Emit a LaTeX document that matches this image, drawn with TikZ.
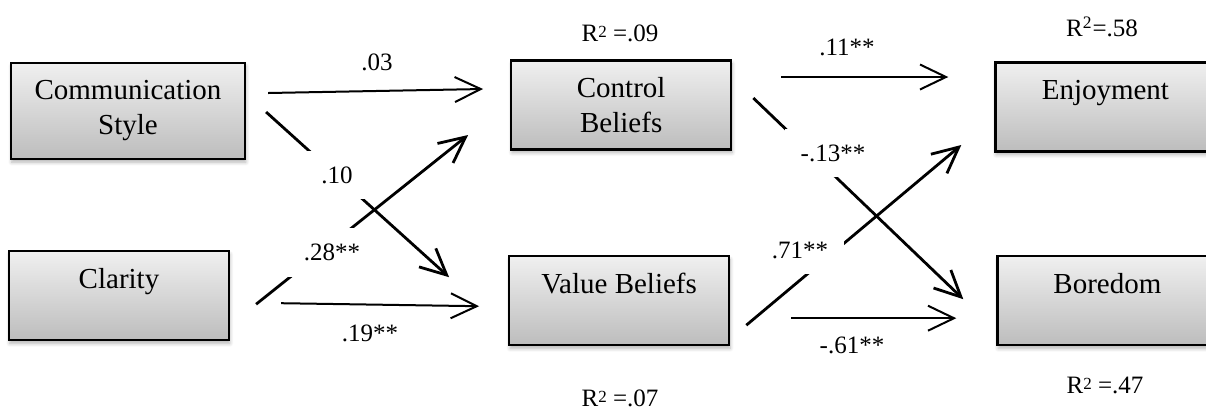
\documentclass[tikz,border=0pt]{standalone}
\usepackage{fontspec}
\setmainfont{Liberation Serif}
\usetikzlibrary{shapes,positioning,calc,arrows.meta,shadows.blur}
\newcommand{\Rtwo}{\raisebox{0.3ex}{\fontsize{8.5}{9}\selectfont 2}}

\begin{document}
\begin{tikzpicture}
            [
            box/.style={rectangle, draw, line width=1.1pt, top color=black!6,
                bottom color=black!26, minimum width=110pt, minimum height=44.5pt,
                align=center, inner sep=2pt, font=\fontsize{14.5}{17.5}\selectfont,
                blur shadow={shadow xshift=0.4pt, shadow yshift=-1.6pt,
                    shadow blur steps=6, shadow opacity=30}},
            coef/.style={font=\fontsize{12.5}{15}\selectfont, inner sep=1pt},
            cut/.style={coef, fill=white, inner sep=8pt},
            link/.style={->, line width=1pt},
            diag/.style={->, line width=1.4pt},
            >={Straight Barb[length=13pt, width=12.5pt]}
            ]

            \useasboundingbox (0,0) rectangle (603pt,-204.5pt);

            \node (comm) [box, minimum width=117pt, minimum height=48pt] at (64pt,-55.5pt) {Communication\\Style};
            \node (ctrl) [box, right=132pt of comm, yshift=3pt] {Control\\Beliefs};
            \node (enjoy) [box, minimum width=118pt, right=131pt of ctrl, yshift=-1pt] {\hspace*{-8pt}Enjoyment\\~};
            \node (clar) [box, below=45pt of comm, xshift=-4.5pt] {Clarity\\~};
            \node (value) [box, right=139pt of clar, yshift=-2.5pt] {Value Beliefs\\~};
            \node (bored) [box, minimum width=118pt, right=133pt of value] {\hspace*{-8pt}Boredom\\~};

            % Teacher to beliefs
            \draw [link] ([shift={(11pt,9pt)}]comm.east) -- ([shift={(-13.5pt,8pt)}]ctrl.west);
            \draw [diag] ([shift={(10pt,-0.5pt)}]comm.east) -- ([shift={(-29.5pt,11.75pt)}]value.west);
            \draw [diag] ([shift={(13pt,-4.25pt)}]clar.east) -- ([shift={(-21pt,-15pt)}]ctrl.west);
            \draw [link] ([shift={(25.5pt,-3.75pt)}]clar.east) -- ([shift={(-14.5pt,-2.75pt)}]value.west);

            % Beliefs to emotions
            \draw [link] ([shift={(24.5pt,14pt)}]ctrl.east) -- ([shift={(-23pt,15pt)}]enjoy.west);
            \draw [diag] ([shift={(10.5pt,3.5pt)}]ctrl.east) -- ([shift={(-16.5pt,0.75pt)}]bored.west);
            \draw [diag] ([shift={(8pt,-12.25pt)}]value.east) -- ([shift={(-16.5pt,-19pt)}]enjoy.west);
            \draw [link] ([shift={(30.5pt,-8.75pt)}]value.east) -- ([shift={(-20pt,-8.75pt)}]bored.west);

            % Path coefficients
            \node (c03) [coef] at (188.5pt,-31pt) {.03};
            \node (c10) [cut] at (168.5pt,-87.5pt) {.10};
            \node (c28) [cut] at (166pt,-126pt) {.28**};
            \node (c19) [coef] at (185pt,-166.5pt) {.19**};
            \node (c11) [coef] at (423.5pt,-23.5pt) {.11**};
            \node (c13) [cut] at (416.5pt,-76.5pt) {-.13**};
            \node (c71) [cut] at (400pt,-125pt) {.71**};
            \node (c61) [coef] at (426pt,-172.5pt) {-.61**};

            % Explained variance
            \node (r09) [coef] at (310pt,-16.5pt) {R\Rtwo{} =.09};
            \node (r58) [coef] at (551pt,-13.5pt) {R\textsuperscript{2}=.58};
            \node (r07) [coef] at (310pt,-199pt) {R\Rtwo{} =.07};
            \node (r47) [coef] at (552.5pt,-192.5pt) {R\Rtwo{} =.47};

        \end{tikzpicture}
\end{document}
